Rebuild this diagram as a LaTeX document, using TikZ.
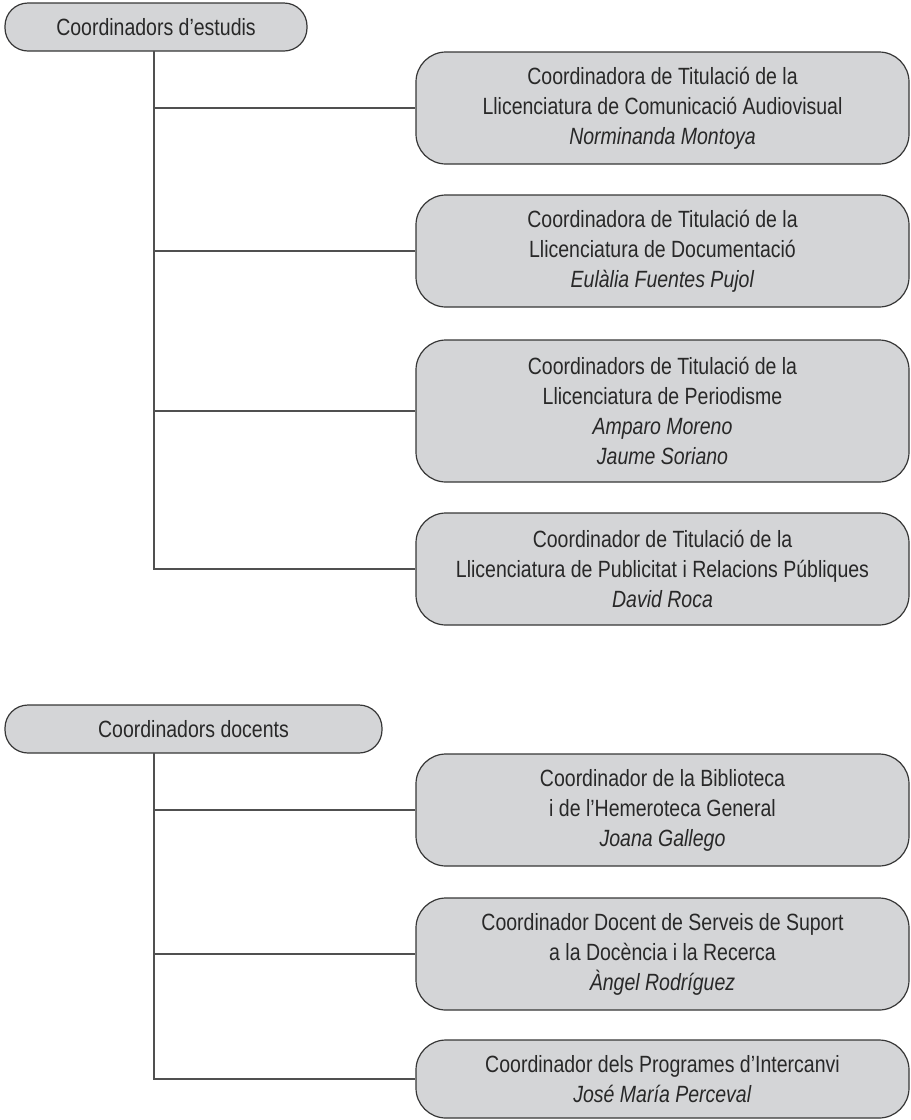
\documentclass[tikz,border=0pt]{standalone}
\usepackage{fontspec}
\setmainfont{Liberation Sans}[FakeStretch=0.83]
\definecolor{boxfill}{RGB}{212,213,215}
\definecolor{boxline}{RGB}{55,55,55}
\definecolor{connline}{RGB}{80,80,80}
\definecolor{txt}{RGB}{40,40,40}
\begin{document}
\begin{tikzpicture}[x=1pt,y=-1pt,
  box/.style={draw=boxline, fill=boxfill, line width=1.2pt, rounded corners=30pt,
    inner sep=0pt, align=center, font=\fontsize{23.5}{30}\selectfont, text=txt},
  head/.style={box, rounded corners=23pt, minimum height=48pt},
  conn/.style={draw=connline, line width=1.4pt}]
\useasboundingbox (0,0) rectangle (911,1120);
% section 1
\node[head, minimum width=302pt] (h1) at (156,27) {Coordinadors d’estudis};
\node[box, minimum width=493pt, minimum height=112pt] (b1) at (662.5,108)
  {Coordinadora de Titulació de la\\Llicenciatura de Comunicació Audiovisual\\\textit{Norminanda Montoya}};
\node[box, minimum width=493pt, minimum height=112pt] (b2) at (662.5,251)
  {Coordinadora de Titulació de la\\Llicenciatura de Documentació\\\textit{Eulàlia Fuentes Pujol}};
\node[box, minimum width=493pt, minimum height=142pt] (b3) at (662.5,411)
  {Coordinadors de Titulació de la\\Llicenciatura de Periodisme\\\textit{Amparo Moreno}\\\textit{Jaume Soriano}};
\node[box, minimum width=493pt, minimum height=112pt] (b4) at (662.5,569)
  {Coordinador de Titulació de la\\Llicenciatura de Publicitat i Relacions Públiques\\\textit{David Roca}};
\coordinate (t1) at (154,51);
\draw[conn] (t1) |- (b4.west);
\draw[conn] (b1.west -| t1) -- (b1.west);
\draw[conn] (b2.west -| t1) -- (b2.west);
\draw[conn] (b3.west -| t1) -- (b3.west);
% section 2
\node[head, minimum width=377pt] (h2) at (193.5,729) {Coordinadors docents};
\node[box, minimum width=493pt, minimum height=112pt] (b5) at (662.5,810)
  {Coordinador de la Biblioteca\\i de l’Hemeroteca General\\\textit{Joana Gallego}};
\node[box, minimum width=493pt, minimum height=112pt] (b6) at (662.5,954)
  {Coordinador Docent de Serveis de Suport\\a la Docència i la Recerca\\\textit{Àngel Rodríguez}};
\node[box, minimum width=493pt, minimum height=78pt] (b7) at (662.5,1079)
  {Coordinador dels Programes d’Intercanvi\\\textit{José María Perceval}};
\coordinate (t2) at (154,753);
\draw[conn] (t2) |- (b7.west);
\draw[conn] (b5.west -| t2) -- (b5.west);
\draw[conn] (b6.west -| t2) -- (b6.west);
\end{tikzpicture}
\end{document}
